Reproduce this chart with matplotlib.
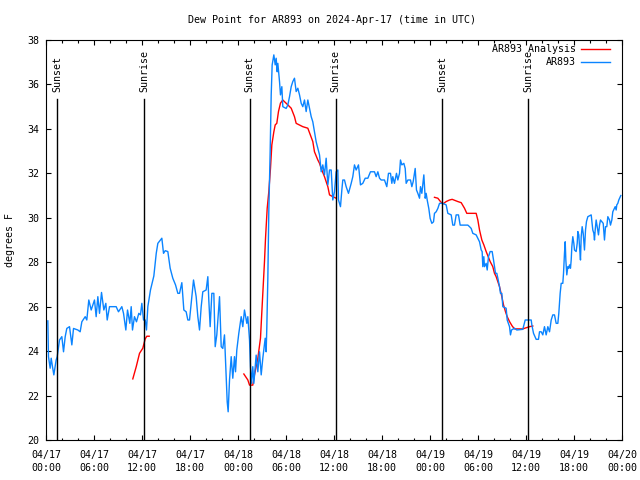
import matplotlib

matplotlib.use("Agg")
import matplotlib.pyplot as plt
import matplotlib.dates as mdates
import matplotlib.transforms as mtransforms
import numpy as np
import pandas as pd

plt.rcParams.update(
    {
        "font.family": "DejaVu Sans Mono",
        "font.size": 7.2,
        "axes.linewidth": 0.8,
    }
)

START = pd.Timestamp("2024-04-17 00:00")

# observed dew point (hours after start, deg F)
obs_hours = [
    0.23, 0.31, 0.52, 0.65, 0.81, 0.98, 1.27, 1.40, 1.69, 1.98, 2.19, 2.40, 2.60, 2.94,
    3.23, 3.44, 3.98, 4.27, 4.48, 4.90, 5.10, 5.35, 5.65, 6.06, 6.27, 6.48, 6.69, 6.94,
    7.23, 7.48, 7.65, 7.94, 8.77, 9.06, 9.48, 9.69, 9.98, 10.19, 10.48, 10.65, 10.81,
    11.06, 11.31, 11.60, 11.81, 11.98, 12.19, 12.40, 12.56, 12.73, 13.06, 13.48, 13.78,
    13.98, 14.48, 14.69, 14.90, 15.23, 15.52, 15.85, 16.19, 16.48, 16.69, 16.98, 17.23,
    17.52, 17.73, 17.94, 18.15, 18.44, 18.77, 18.98, 19.19, 19.40, 19.60, 20.02, 20.23,
    20.35, 20.52, 20.73, 20.98, 21.15, 21.35, 21.69, 21.90, 22.10, 22.31, 22.52, 22.65,
    22.77, 22.94, 23.15, 23.35, 23.56, 23.69, 23.85, 24.10, 24.40, 24.60, 24.81, 25.10,
    25.23, 25.44, 25.56, 25.69, 25.85, 25.98, 26.27, 26.48, 26.69, 26.90, 27.10, 27.40,
    27.52, 27.60, 27.73, 27.85, 28.02, 28.15, 28.27, 28.48, 28.65, 28.77, 28.90, 28.98,
    29.19, 29.31, 29.48, 29.60, 30.02, 30.23, 30.44, 30.65, 30.85, 31.06, 31.27, 31.48,
    31.69, 31.90, 32.10, 32.31, 32.52, 32.73, 32.94, 33.15, 33.35, 33.56, 33.77, 33.98,
    34.19, 34.40, 34.60, 34.81, 35.02, 35.23, 35.44, 35.65, 35.85, 36.06, 36.27, 36.48,
    36.56, 36.81, 36.98, 37.10, 37.31, 37.52, 37.81, 38.15, 38.35, 38.56, 38.77, 39.06,
    39.31, 39.60, 39.90, 40.23, 40.56, 41.06, 41.27, 41.48, 41.69, 41.90, 42.31, 42.60,
    42.81, 43.06, 43.23, 43.35, 43.56, 43.81, 43.98, 44.19, 44.31, 44.48, 44.73, 44.90,
    45.02, 45.23, 45.56, 45.73, 45.90, 46.15, 46.31, 46.48, 46.69, 46.81, 46.98, 47.23,
    47.40, 47.52, 47.65, 47.85, 48.02, 48.23, 48.44, 48.56, 48.77, 48.98, 49.19, 49.60,
    50.02, 50.23, 50.65, 50.85, 51.06, 51.27, 51.56, 51.77, 52.73, 52.94, 53.15, 53.35,
    53.77, 53.98, 54.19, 54.40, 54.52, 54.60, 54.73, 54.81, 55.02, 55.15, 55.31, 55.52,
    55.77, 55.94, 56.06, 56.19, 56.35, 56.48, 56.69, 56.81, 56.98, 57.10, 57.52, 57.65,
    57.94, 58.06, 58.19, 58.56, 58.85, 59.60, 59.90, 60.65, 60.73, 60.94, 61.27, 61.56,
    61.69, 61.90, 62.10, 62.31, 62.52, 62.73, 62.94, 63.15, 63.35, 63.56, 63.77, 63.98,
    64.10, 64.27, 64.40, 64.60, 64.69, 64.81, 64.90, 64.98, 65.10, 65.23, 65.35, 65.44,
    65.56, 65.65, 65.73, 65.85, 65.98, 66.06, 66.27, 66.40, 66.48, 66.60, 66.69, 66.81,
    66.90, 67.02, 67.15, 67.31, 67.44, 67.56, 67.73, 68.15, 68.35, 68.48, 68.56, 68.65,
    68.77, 68.90, 69.06, 69.19, 69.31, 69.65, 69.81, 69.94, 70.10, 70.23, 70.44, 70.56,
    70.73, 70.85, 71.15, 71.27, 71.35, 71.48, 71.60, 71.85,
]
obs_dewpt = [
    25.36, 23.75, 23.23, 23.68, 23.30, 22.93, 23.60, 23.75, 24.50, 24.65, 23.97, 24.65, 25.02, 25.10,
    24.28, 25.02, 24.95, 24.87, 25.32, 25.55, 25.40, 26.30, 25.85, 26.30, 25.55, 26.45, 25.70, 26.64,
    25.85, 26.15, 25.40, 26.00, 26.00, 25.77, 26.00, 25.70, 24.95, 25.85, 25.25, 26.00, 24.95,
    25.55, 25.32, 25.70, 25.63, 26.15, 25.40, 25.40, 24.95, 26.00, 26.75, 27.38, 28.40,
    28.85, 29.08, 28.40, 28.52, 28.48, 27.73, 27.28, 26.98, 26.60, 26.60, 27.08, 25.85,
    25.77, 25.40, 25.40, 26.15, 27.20, 26.45, 25.55, 24.95, 26.00, 26.67, 26.75, 27.35,
    26.30, 25.10, 26.60, 26.60, 24.20, 24.73, 26.45, 24.20, 24.12, 24.73, 22.85, 21.72,
    21.27, 22.70, 23.75, 22.78, 23.75, 23.07, 24.05, 24.80, 25.55, 25.10, 25.85, 25.25,
    25.55, 24.50, 23.30, 22.55, 23.30, 22.55, 23.82, 23.07, 23.97, 22.93, 23.68, 24.58,
    23.97, 25.03, 27.28, 30.27, 32.97, 35.53, 36.88, 37.33, 36.88, 37.18, 36.57, 36.95,
    36.13, 35.53, 35.90, 35.00, 34.92, 35.08, 35.45, 35.90, 36.13, 36.28, 35.68, 35.83,
    35.53, 35.15, 35.00, 35.30, 34.78, 35.30, 34.92, 34.55, 34.32, 33.87, 33.42, 33.13,
    32.83, 32.07, 32.38, 31.93, 32.68, 31.48, 32.15, 32.15, 30.80, 31.17, 32.07, 32.15,
    30.80, 30.50, 31.25, 31.70, 31.70, 31.40, 31.10, 31.55, 31.85, 32.38, 32.15, 32.38,
    31.48, 31.55, 31.78, 31.78, 32.07, 32.07, 31.85, 32.07, 31.78, 31.70, 31.70, 31.40,
    32.00, 32.00, 31.55, 31.85, 31.55, 32.00, 31.70, 32.00, 32.60, 32.38, 32.45, 32.22,
    31.55, 31.70, 31.70, 31.40, 31.63, 32.22, 31.25, 31.10, 30.88, 31.40, 31.10, 31.93,
    30.88, 31.10, 30.80, 30.42, 29.97, 29.75, 29.82, 30.20, 30.27, 30.42, 30.65, 30.65,
    30.58, 30.20, 30.13, 29.67, 29.67, 30.13, 30.13, 29.67, 29.67, 29.60, 29.52, 29.30,
    29.23, 29.08, 28.92, 28.55, 28.48, 27.80, 28.25, 27.80, 27.95, 27.65, 28.25, 28.48,
    28.48, 28.10, 27.80, 27.50, 27.50, 27.28, 26.90, 26.60, 26.60, 26.00, 25.93, 25.40,
    25.10, 24.73, 24.95, 25.03, 24.95, 24.98, 25.40, 25.40, 25.18, 24.80, 24.53, 24.53,
    24.87, 24.87, 24.73, 25.10, 24.73, 25.10, 24.87, 25.40, 25.63, 25.63, 25.25, 25.25,
    25.70, 26.60, 27.05, 27.05, 27.50, 28.40, 28.92, 28.10, 27.43, 27.80, 27.73, 27.88,
    27.73, 28.10, 28.70, 29.15, 28.85, 28.55, 28.48, 28.85, 29.38, 29.23, 28.70, 28.10,
    29.15, 29.60, 29.30, 28.55, 29.45, 29.83, 30.05, 30.13, 29.45, 29.30, 29.00, 29.45,
    29.90, 29.60, 29.23, 29.67, 29.90, 29.75, 29.00, 29.60, 29.60, 30.05, 29.90, 29.67,
    29.90, 30.27, 30.50, 30.35, 30.58, 30.65, 30.80, 31.00,
]

# analysis dew point, NaN marks gaps between the runs
ana_hours = [
    10.85, 11.28, 11.69, 12.10, 12.40, 12.60, 12.90, 12.95,
    24.73, 25.23, 25.44, 25.85, 26.06, 26.48, 26.81, 26.98, 27.31, 27.44, 27.65, 27.85,
    28.06, 28.23, 28.48, 28.65, 28.85, 29.06, 29.31, 29.60, 30.23, 30.65, 31.06, 31.27,
    32.10, 32.73, 33.35, 33.56, 33.98, 34.19, 34.40, 34.81, 35.23, 35.44, 35.85, 36.27, 36.30,
    48.56, 48.98, 49.31, 49.60, 50.02, 50.44, 50.77, 51.48, 51.90, 52.31, 52.60, 53.77,
    53.98, 54.19, 54.48, 54.73, 55.02, 55.52, 55.85, 56.06, 56.27, 56.69, 56.98, 57.19,
    57.44, 57.65, 57.94, 58.27, 58.56, 59.19, 59.60, 60.02, 60.44, 60.85,
]
ana_dewpt = [
    22.75, 23.30, 23.90, 24.13, 24.55, 24.67, 24.67, np.nan,
    22.97, 22.70, 22.47, 22.47, 22.93, 23.68, 24.58, 25.77, 28.02, 29.08, 30.43, 31.17,
    32.22, 33.28, 33.87, 34.18, 34.25, 34.78, 35.16, 35.30, 35.08, 34.93, 34.55, 34.25,
    34.10, 34.03, 33.43, 32.97, 32.60, 32.45, 32.22, 31.85, 31.40, 31.03, 30.95, 30.88, np.nan,
    30.92, 30.88, 30.73, 30.62, 30.73, 30.80, 30.83, 30.73, 30.68, 30.43, 30.20, 30.20,
    29.90, 29.45, 29.00, 28.78, 28.48, 28.03, 27.80, 27.50, 27.35, 26.90, 26.45, 26.08,
    25.77, 25.55, 25.33, 25.13, 25.00, 25.00, 25.00, 25.05, 25.10, 25.13,
]

sun_labels = ["Sunset", "Sunrise", "Sunset", "Sunrise", "Sunset", "Sunrise"]
sun_hours = [1.4, 12.3, 25.45, 36.2, 49.55, 60.3]

COLOR_OBS = "#0a84ff"
COLOR_ANA = "#ff0000"


def to_time(hours):
    return START + pd.to_timedelta(np.asarray(hours, dtype=float), unit="h")


fig = plt.figure(figsize=(6.4, 4.8), dpi=100)
ax = fig.add_axes([46 / 640, 40 / 480, 576 / 640, 400 / 480])

ax.plot(to_time(ana_hours), ana_dewpt, color=COLOR_ANA, linewidth=1.0, label="AR893 Analysis")
ax.plot(to_time(obs_hours), obs_dewpt, color=COLOR_OBS, linewidth=1.0, label="AR893")

# sunrise / sunset markers
trans = mtransforms.blended_transform_factory(ax.transData, ax.transAxes)
for name, h in zip(sun_labels, sun_hours):
    t = mdates.date2num(to_time([h])[0])
    ax.plot([t, t], [0, 0.8525], color="black", linewidth=1.0, transform=trans)
    ax.text(t, 0.87, name, rotation=90, ha="center", va="bottom", transform=trans)

ax.set_xlim(to_time([0])[0], to_time([72])[0])
ax.set_ylim(20, 38)
ax.set_yticks(np.arange(20, 39, 2))

ax.xaxis.set_major_locator(mdates.HourLocator(byhour=[0, 6, 12, 18]))
ax.xaxis.set_minor_locator(mdates.HourLocator(interval=2))
ax.xaxis.set_major_formatter(mdates.DateFormatter("%m/%d\n%H:%M"))

ax.tick_params(axis="both", which="both", direction="in", top=True, right=True, width=0.8)
ax.tick_params(axis="x", which="major", length=3.3, pad=7)
ax.tick_params(axis="x", which="minor", length=1.8)
ax.tick_params(axis="y", which="major", length=3.6, pad=4.5)
for lab in ax.get_xticklabels():
    lab.set_linespacing(1.35)

ax.set_ylabel("degrees F")
ax.yaxis.set_label_coords(-31 / 576, 0.5)

fig.text(332 / 640, 1 - 20 / 480, "Dew Point for AR893 on 2024-Apr-17 (time in UTC)",
         ha="center", va="center")

ax.legend(
    loc="upper right",
    bbox_to_anchor=(610 / 640, 1 - 44 / 480),
    bbox_transform=fig.transFigure,
    frameon=False,
    markerfirst=False,
    handlelength=2.9,
    handletextpad=0.5,
    labelspacing=0.3,
    borderpad=0,
    borderaxespad=0,
)

fig.savefig("out.png", dpi=100)
